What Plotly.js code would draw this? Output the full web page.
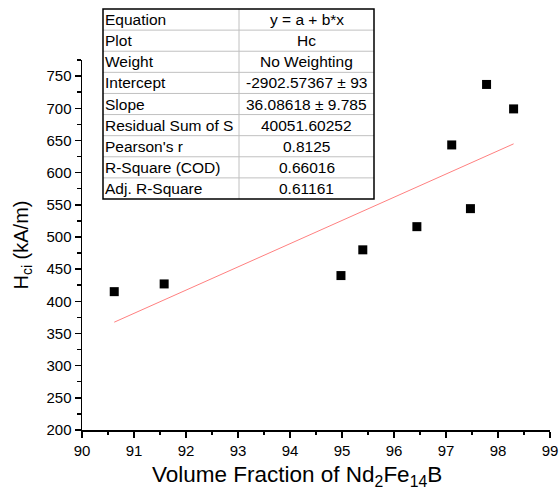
<!DOCTYPE html>
<html>
<head>
<meta charset="utf-8">
<script src="https://cdn.plot.ly/plotly-3.0.1.min.js"></script>
<style>html,body{margin:0;padding:0;background:#fff;}#chart{width:559px;height:490px;}</style>
</head>
<body>
<div id="chart"></div>
<script>
// Data
const volumeFraction = [90.62, 91.58, 94.98, 95.40, 96.44, 97.47, 97.11, 97.78, 98.30];
const hci = [415, 427, 440, 480, 516, 544, 643, 737, 699];

// Linear fit results (from the table)
const intercept = -2902.57367;
const slope = 36.08618;

const tableLabels = ["Equation", "Plot", "Weight", "Intercept", "Slope",
  "Residual Sum of S", "Pearson's r", "R-Square (COD)", "Adj. R-Square"];
const tableValues = ["y = a + b*x", "Hc", "No Weighting", "-2902.57367 ± 93",
  "36.08618 ± 9.785", "40051.60252", "0.8125", "0.66016", "0.61161"];

const xTitle = 'Volume Fraction of Nd<sub>2</sub>Fe<sub>14</sub>B';
const yTitle = 'H<sub>ci</sub> (kA/m)';

const FONT = "Arial, 'Liberation Sans', sans-serif";

const xmin = Math.min(...volumeFraction), xmax = Math.max(...volumeFraction);
const fitX = [xmin, xmax];
const fitY = fitX.map(v => intercept + slope * v);

// layout geometry (pixels)
const W = 559, H = 490;
const M = {l: 82, r: 9, t: 60, b: 60};
const pw = W - M.l - M.r, ph = H - M.t - M.b;
const px = x => (x - M.l) / pw;
const py = y => (H - M.b - y) / ph;

// table box in pixels
const tL = 103, tR = 374, tT = 9, tB = 199, tMid = 239;
const rowH = (tB - tT) / tableLabels.length;

const shapes = [];
const annotations = [];
for (let i = 1; i < tableLabels.length; i++) {
  const y = tT + rowH * i;
  shapes.push({type: 'line', xref: 'paper', yref: 'paper', x0: px(tL), x1: px(tR), y0: py(y), y1: py(y),
    line: {color: '#c0c0c0', width: 1}});
}
shapes.push({type: 'line', xref: 'paper', yref: 'paper', x0: px(tMid), x1: px(tMid), y0: py(tT), y1: py(tB),
  line: {color: '#c0c0c0', width: 1}});
shapes.push({type: 'rect', xref: 'paper', yref: 'paper', x0: px(tL), x1: px(tR), y0: py(tT), y1: py(tB),
  line: {color: '#000', width: 1.5}, fillcolor: 'rgba(0,0,0,0)'});
tableLabels.forEach((lab, i) => {
  const yc = tT + rowH * (i + 0.5);
  annotations.push({xref: 'paper', yref: 'paper', x: px(tL + 0.5), y: py(yc), xanchor: 'left', yanchor: 'middle',
    text: lab, showarrow: false, borderpad: 0, font: {family: FONT, size: 15.5, color: '#000'}});
  annotations.push({xref: 'paper', yref: 'paper', x: px((tMid + tR) / 2), y: py(yc), xanchor: 'center', yanchor: 'middle',
    text: tableValues[i], showarrow: false, borderpad: 0, font: {family: FONT, size: 15.5, color: '#000'}});
});

// x axis title placed as in the reference
annotations.push({xref: 'paper', yref: 'paper', x: px(297), y: py(476), xanchor: 'center', yanchor: 'middle',
  text: xTitle, showarrow: false, borderpad: 0, font: {family: FONT, size: 22.5, color: '#000'}});

const traces = [
  {x: volumeFraction, y: hci, type: 'scatter', mode: 'markers',
   marker: {symbol: 'square', size: 9, color: '#000'}, showlegend: false},
  {x: fitX, y: fitY, type: 'scatter', mode: 'lines',
   line: {color: '#ff8080', width: 1}, showlegend: false}
];

const layout = {
  width: W, height: H,
  margin: M,
  paper_bgcolor: '#fff', plot_bgcolor: '#fff',
  font: {family: FONT, size: 15, color: '#000'},
  xaxis: {
    range: [90, 99], dtick: 1, tick0: 90,
    showline: true, linecolor: '#000', linewidth: 1.5, mirror: false,
    ticks: 'outside', ticklen: 6, tickwidth: 1.5, tickcolor: '#000',
    minor: {dtick: 0.5, ticks: 'outside', ticklen: 3.5, tickwidth: 1.5, tickcolor: '#000'},
    showgrid: false, zeroline: false,
    ticklabeloverflow: 'allow',
    tickfont: {family: FONT, size: 15}
  },
  yaxis: {
    range: [200, 775], dtick: 50, tick0: 200,
    showline: true, linecolor: '#000', linewidth: 1.5, mirror: false,
    ticks: 'outside', ticklen: 6, tickwidth: 1.5, tickcolor: '#000',
    minor: {dtick: 25, ticks: 'outside', ticklen: 3.5, tickwidth: 1.5, tickcolor: '#000'},
    showgrid: false, zeroline: false,
    tickfont: {family: FONT, size: 15},
    title: {text: yTitle, font: {family: FONT, size: 20}, standoff: 12}
  },
  shapes: shapes,
  annotations: annotations
};

Plotly.newPlot('chart', traces, layout, {displayModeBar: false, staticPlot: true});
</script>
</body>
</html>
